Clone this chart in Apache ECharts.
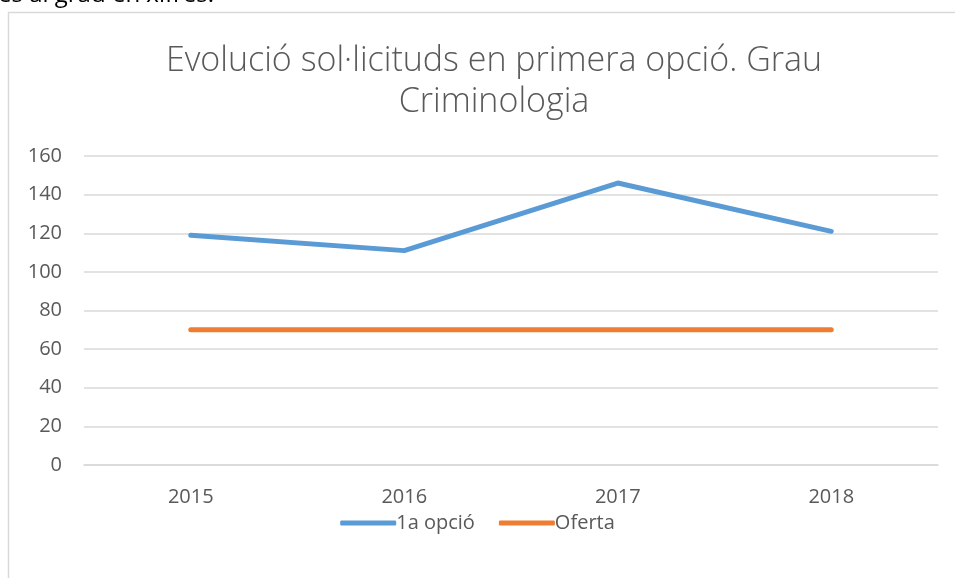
<!DOCTYPE html>
<html>
<head>
<meta charset="utf-8">
<script src="https://cdn.jsdelivr.net/npm/echarts@6/dist/echarts.min.js"></script>
<style>
  html, body { margin: 0; padding: 0; background: #fff; }
  #main { width: 955px; height: 578px; }
</style>
</head>
<body>
<div id="main"></div>
<script>
// dades del gràfic
const anys = ["2015", "2016", "2017", "2018"];
const primeraOpcio = [119, 111, 146, 121];
const oferta = [70, 70, 70, 70];
const titol = "Evolució sol·licituds en primera opció. Grau\nCriminologia";

const chart = echarts.init(document.getElementById("main"));
const textColor = "#595959";
const fontFam = "'Open Sans', 'Liberation Sans', sans-serif";

chart.setOption({
  animation: false,
  title: {
    text: titol,
    left: 489,
    textAlign: "center",
    top: 36,
    textStyle: {
      fontSize: 34,
      fontWeight: 300,
      color: textColor,
      fontFamily: fontFam,
      lineHeight: 41,
    },
  },
  graphic: [
    {
      type: "rect",
      shape: { x: 8.5, y: 12.5, width: 1000, height: 700 },
      style: { fill: "none", stroke: "#d9d9d9", lineWidth: 1.5 },
      silent: true,
    },
    {
      type: "text",
      left: -2,
      top: -17,
      style: {
        text: "es al grau en xifres.",
        fontSize: 24,
        fill: "#000",
        fontFamily: fontFam,
      },
    },
  ],
  grid: {
    left: 84,
    right: 17,
    top: 156,
    bottom: 113,
    containLabel: false,
  },
  legend: {
    bottom: 40,
    left: "center",
    itemWidth: 56,
    itemHeight: 5,
    itemGap: 24,
    icon: "roundRect",
    textStyle: { fontSize: 20, color: textColor, fontFamily: fontFam, padding: [0, 0, 0, -5] },
    data: ["1a opció", "Oferta"],
  },
  xAxis: {
    type: "category",
    data: anys,
    axisLine: { lineStyle: { color: "#d9d9d9", width: 1.5 } },
    axisTick: { show: false },
    axisLabel: { fontSize: 20, color: textColor, fontFamily: fontFam, margin: 22 },
  },
  yAxis: {
    type: "value",
    min: 0,
    max: 160,
    interval: 20,
    axisLine: { show: false },
    axisTick: { show: false },
    splitLine: { lineStyle: { color: "#d9d9d9", width: 1.5 } },
    axisLabel: { fontSize: 20, color: textColor, fontFamily: fontFam, margin: 22 },
  },
  series: [
    {
      name: "1a opció",
      type: "line",
      data: primeraOpcio,
      symbol: "none",
      lineStyle: { color: "#5b9bd5", width: 5, cap: "round", join: "round" },
      itemStyle: { color: "#5b9bd5" },
    },
    {
      name: "Oferta",
      type: "line",
      data: oferta,
      symbol: "none",
      lineStyle: { color: "#ed7d31", width: 5, cap: "round", join: "round" },
      itemStyle: { color: "#ed7d31" },
    },
  ],
});
</script>
</body>
</html>
